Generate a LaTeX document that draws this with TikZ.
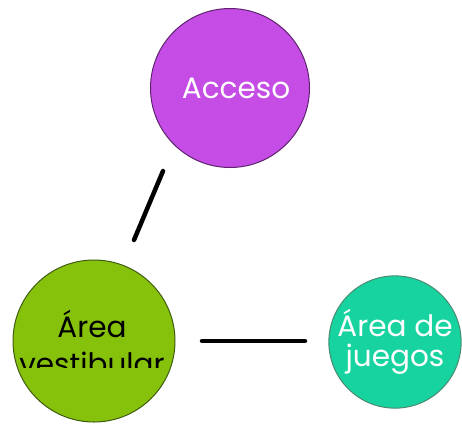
\documentclass[tikz,border=0pt]{standalone}
\usepackage{fontspec}
\setmainfont{Poppins}
\definecolor{accfill}{HTML}{C64CE6}
\definecolor{accline}{HTML}{5E2470}
\definecolor{vestfill}{HTML}{86C20B}
\definecolor{vestline}{HTML}{3F5C10}
\definecolor{juefill}{HTML}{17D3A0}
\definecolor{jueline}{HTML}{4A8A72}
\begin{document}
\begin{tikzpicture}[x=1pt, y=-1pt,
		zone/.style={circle, line width=1pt, inner sep=0pt, align=center,
			font=\fontsize{29.5}{#1}\selectfont},
		link/.style={line width=4.5pt, line cap=round}]
		\useasboundingbox (0,0) rectangle (462,424);
		
		\node[zone=30, minimum size=159pt, draw=accline, fill=accfill, text=white] (acc) at (230,88) {\hspace*{12pt}Acceso};
		\node[zone=37, minimum size=162pt, draw=vestline, fill=vestfill] (vest) at (94,341) {};
		\node[zone=30, minimum size=128pt, draw=jueline, fill=juefill, text=white] (jue) at (395,342) {Área de\\juegos};
		
		\begin{scope}
			\clip (0,0) rectangle (462,367);
			\node[zone=37] (vesttext) at (92,342) {Área\\vestibular};
		\end{scope}
		
		\coordinate (ta) at (163,171);
		\coordinate (tb) at (134,240);
		\coordinate (ha) at (202,341);
		\coordinate (hb) at (305,341);
		\draw[link] (ta) -- (tb);
		\draw[link] (ha) -- (hb);
	\end{tikzpicture}
\end{document}
